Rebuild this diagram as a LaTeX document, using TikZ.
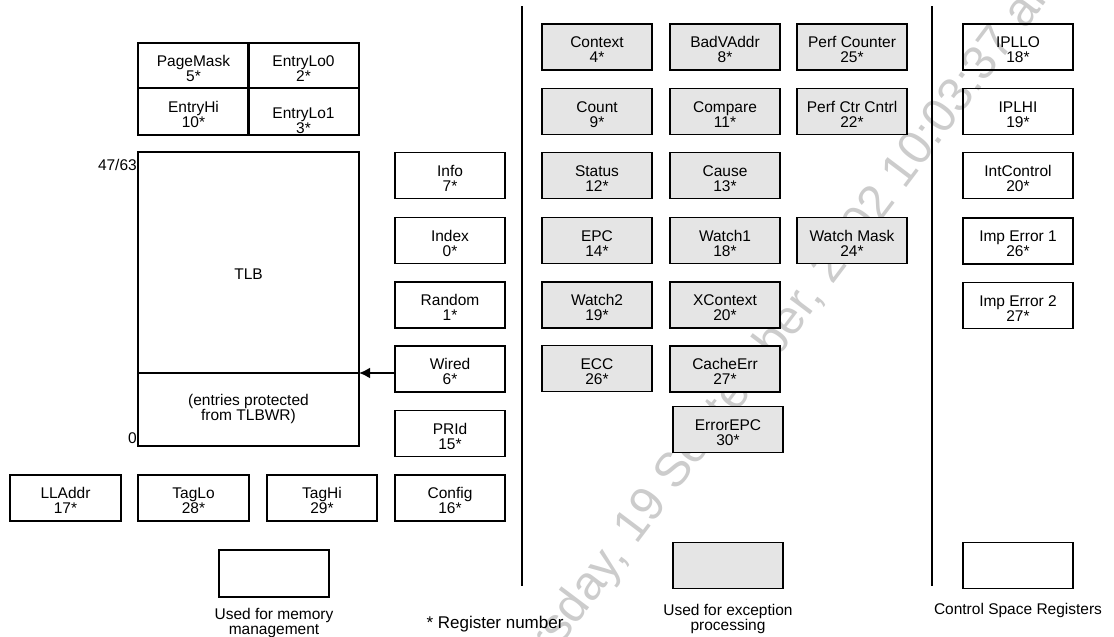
\documentclass[tikz,border=0pt]{standalone}
\usepackage{fontspec}
\setmainfont{Liberation Sans}
\usetikzlibrary{arrows.meta,positioning}
\definecolor{excgray}{gray}{0.9}
\tikzset{
  regbox/.style={draw, line width=1.1pt, minimum width=110pt, minimum height=46pt,
    inner sep=1.5pt, align=center, text height=31pt, text depth=0pt,
    font=\fontsize{15.5}{15}\selectfont},
  excbox/.style={regbox, fill=excgray},
  note/.style={inner sep=0pt, align=center, font=\fontsize{15.5}{15}\selectfont},
}
\begin{document}
\begin{tikzpicture}[x=1pt,y=-1pt]
    \useasboundingbox (0,0) rectangle (1114,637);
    %% Date stamp across the page
    \begin{scope}
        \clip (0,0) rectangle (1114,637);
        \node[anchor=base west,rotate=53,text=gray!40,font=\fontsize{48}{48}\selectfont] (stamp) at (500,727) {Thursday, 19 September, 2002 10:03:37 am};
    \end{scope}
    %% Entry registers
    \node[regbox,minimum width=111pt,minimum height=45pt] (pagemask) at (193.5,65.5) {PageMask\\5*};
    \node[regbox,minimum width=111pt,minimum height=45pt] (entrylo0) at (303.5,65.5) {EntryLo0\\2*};
    \node[regbox,minimum width=111pt,minimum height=47pt] (entryhi) at (193.5,111.5) {EntryHi\\10*};
    \node[regbox,minimum width=111pt,minimum height=47pt,text height=43pt] (entrylo1) at (303.5,111.5) {EntryLo1\\3*};
    %% TLB
    \node[draw,line width=1.1pt,minimum width=221pt,minimum height=294pt] (tlb) at (248.5,299) {};
    \node[note] (tlbname) at (248.5,274) {TLB};
    \coordinate (divl) at (138,373);
    \coordinate (divr) at (359,373);
    \draw[line width=1.1pt] (divl) -- (divr);
    \node[note] (protect) at (248.5,409) {(entries protected\\from TLBWR)};
    \node[note,anchor=east] (tlbtop) at (137,165) {47/63};
    \node[note,anchor=east] (tlbbot) at (137,438) {0};
    %% Memory management registers
    \node[regbox] (info) at (450,175.5) {Info\\7*};
    \node[regbox] (index) at (450,240.5) {Index\\0*};
    \node[regbox] (random) at (450,305) {Random\\1*};
    \node[regbox] (wired) at (450,369) {Wired\\6*};
    \node[regbox] (prid) at (450,433.5) {PRId\\15*};
    \node[regbox] (config) at (450,498) {Config\\16*};
    \node[regbox,minimum width=111pt] (lladdr) at (65.5,498) {LLAddr\\17*};
    \node[regbox,minimum width=111pt] (taglo) at (193.5,498) {TagLo\\28*};
    \node[regbox] (taghi) at (322,498) {TagHi\\29*};
    \draw[line width=2pt,-{Latex[length=11pt,width=11pt]}] (wired.west |- divr) -- (divr);
    %% Exception registers
    \node[excbox] (context) at (597,47) {Context\\4*};
    \node[excbox] (count) at (597,111.5) {Count\\9*};
    \node[excbox] (status) at (597,175.5) {Status\\12*};
    \node[excbox] (epc) at (597,240.5) {EPC\\14*};
    \node[excbox] (watch2) at (597,305) {Watch2\\19*};
    \node[excbox] (ecc) at (597,368.5) {ECC\\26*};
    \node[excbox] (badvaddr) at (725,47) {BadVAddr\\8*};
    \node[excbox] (compare) at (725,111.5) {Compare\\11*};
    \node[excbox] (cause) at (725,175.5) {Cause\\13*};
    \node[excbox] (watch1) at (725,240.5) {Watch1\\18*};
    \node[excbox] (xcontext) at (725,305) {XContext\\20*};
    \node[excbox] (cacheerr) at (725,369) {CacheErr\\27*};
    \node[excbox] (errorepc) at (728,429.5) {ErrorEPC\\30*};
    \node[excbox] (perfcnt) at (852,47) {Perf Counter\\25*};
    \node[excbox] (perfctl) at (852,111.5) {Perf Ctr Cntrl\\22*};
    \node[excbox] (watchmask) at (852,240.5) {Watch Mask\\24*};
    %% Control space registers
    \node[regbox] (ipllo) at (1018,47) {IPLLO\\18*};
    \node[regbox] (iplhi) at (1018,111.5) {IPLHI\\19*};
    \node[regbox] (intctl) at (1018,175.5) {IntControl\\20*};
    \node[regbox] (imperr1) at (1018,241) {Imp Error 1\\26*};
    \node[regbox] (imperr2) at (1018,305.5) {Imp Error 2\\27*};
    %% Group separators
    \draw[line width=1.2pt] (522,6) -- (522,586);
    \draw[line width=1.2pt] (932,6) -- (932,586);
    %% Key
    \node[regbox,minimum height=47pt] (memkey) at (274,573.5) {};
    \node[note,below=11pt of memkey] (memtext) {Used for memory\\management};
    \node[excbox] (exckey) at (728,565.5) {};
    \node[note,below=15pt of exckey] (exctext) {Used for exception\\processing};
    \node[regbox] (ctlkey) at (1018,565.5) {};
    \node[note,below=14pt of ctlkey] (ctltext) {Control Space Registers};
    \node[note,font=\fontsize{17}{17}\selectfont] (regnum) at (495,624) {* Register number};
\end{tikzpicture}
\end{document}
